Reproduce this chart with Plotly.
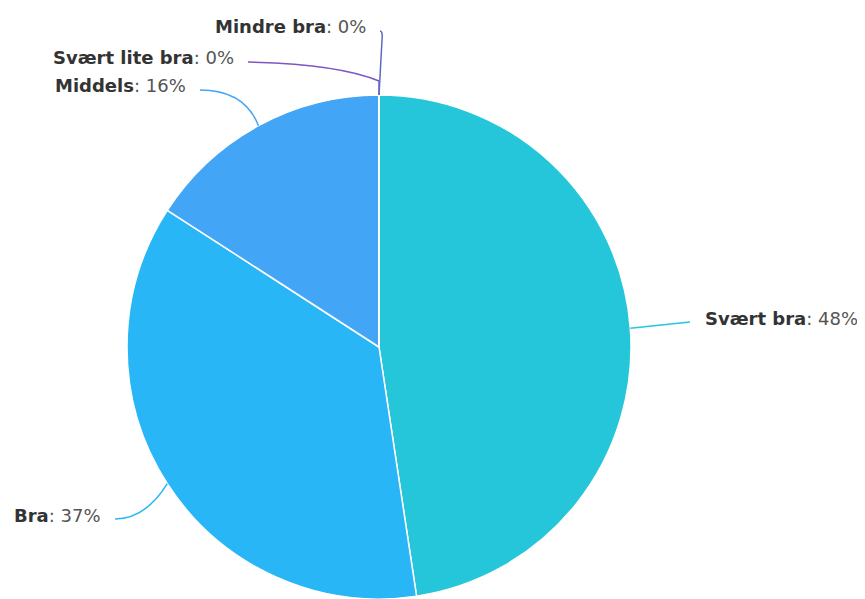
import math
import plotly.graph_objects as go

categories = ["Svært bra", "Bra", "Middels", "Svært lite bra", "Mindre bra"]
values = [30, 23, 10, 0, 0]
pct_labels = ["48%", "37%", "16%", "0%", "0%"]
colors = ["#26C6DA", "#29B6F6", "#42A5F5", "#7E57C2", "#5C6BC0"]

OFF = 8  # page body margin
W, H = 865 - OFF, 599 - OFF
CX, CY, R = 379, 347, 252

# label anchor (end of connector), text side
label_layout = {
    "Svært bra": dict(end=(690, 322), side="right"),
    "Bra": dict(end=(115, 519), side="left"),
    "Middels": dict(end=(200, 90), side="left"),
    "Svært lite bra": dict(end=(248, 62), side="left"),
    "Mindre bra": dict(end=(380, 31), side="left"),
}


def px(x):
    return (x - OFF) / W


def py(y):
    return 1 - (y - OFF) / H


fig = go.Figure(go.Pie(
    labels=categories, values=values, sort=False, direction="clockwise", rotation=0,
    marker=dict(colors=colors, line=dict(color="white", width=1.5)),
    textinfo="none", hoverinfo="label+percent", showlegend=False,
    domain=dict(x=[px(CX - R), px(CX + R)], y=[max(0, py(CY + R)), py(CY - R)]),
))

total = sum(values)
cum = 0.0
shapes = []
annotations = []
for cat, v, pl, col in zip(categories, values, pct_labels, colors):
    a0 = cum / total * 360
    cum += v
    a1 = cum / total * 360
    mid = math.radians((a0 + a1) / 2)
    ex = CX + R * math.sin(mid)
    ey = CY - R * math.cos(mid)
    lay = label_layout[cat]
    lx, ly = lay["end"]
    if cat == "Svært bra":
        path = f"M {ex},{ey} L {lx},{ly}"
    elif cat == "Bra":
        path = f"M {ex},{ey} Q {ex - 22},{ly} {lx},{ly}"
    elif cat == "Middels":
        path = f"M {ex},{ey} Q {ex - 14},{ly} {lx},{ly}"
    elif cat == "Svært lite bra":
        path = f"M {ex},{ey} L {ex},{ey - 14} Q {ex - 40},{ly + 2} {lx},{ly}"
    else:
        path = f"M {ex},{ey} L {ex + 3},{ly + 9} Q {ex + 4},{ly} {lx},{ly}"
    toks = path.split()
    conv = []
    for t in toks:
        if "," in t:
            a, b = t.split(",")
            conv.append(f"{px(float(a)):.5f},{py(float(b)):.5f}")
        else:
            conv.append(t)
    shapes.append(dict(type="path", xref="paper", yref="paper", path=" ".join(conv),
                       line=dict(color=col, width=1.5)))
    text = f"<b>{cat}</b><span style='color:#555555'>: {pl}</span>"
    if lay["side"] == "right":
        annotations.append(dict(x=px(lx + 13), y=py(ly - 4), xref="paper", yref="paper",
                                text=text, showarrow=False, xanchor="left", yanchor="middle"))
    else:
        annotations.append(dict(x=px(lx - 12), y=py(ly - 4), xref="paper", yref="paper",
                                text=text, showarrow=False, xanchor="right", yanchor="middle"))

fig.update_layout(
    width=W, height=H, margin=dict(l=0, r=0, t=0, b=0),
    paper_bgcolor="white", plot_bgcolor="white",
    font=dict(family="DejaVu Sans", size=18, color="#333333"),
    shapes=shapes, annotations=annotations,
)
fig.write_html("out.html")
